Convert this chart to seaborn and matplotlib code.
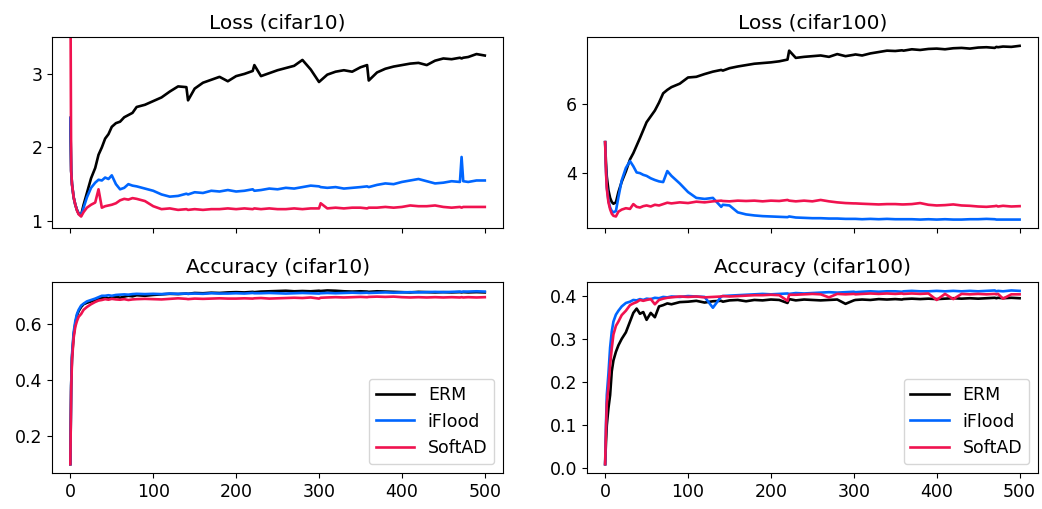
import matplotlib
matplotlib.use('Agg')
import matplotlib.pyplot as plt
import seaborn as sns
import pandas as pd

# --- DATA ---
EPOCHS = [0, 1, 2, 4, 6, 8, 10, 13, 16, 20, 25, 30, 34, 38, 42, 46, 50, 55, 60, 65,
          70, 75, 80, 90, 100, 110, 120, 130, 140, 142, 150, 160, 170, 180, 190, 200,
          210, 220, 222, 230, 240, 250, 260, 270, 280, 290, 300, 302, 310, 320, 330,
          340, 350, 358, 360, 370, 380, 390, 400, 410, 420, 430, 440, 450, 460, 470,
          472, 474, 480, 490, 500]

METHODS = ["ERM", "iFlood", "SoftAD"]
COLORS = {"ERM": "#000000", "iFlood": "#0066ff", "SoftAD": "#f0124f"}

loss_c10_erm = [2.40, 1.68, 1.50, 1.32, 1.22, 1.15, 1.10, 1.08, 1.22, 1.38, 1.58, 1.72, 1.90, 2.00,
                2.12, 2.18, 2.28, 2.33, 2.35, 2.41, 2.44, 2.47, 2.55, 2.58, 2.63, 2.68, 2.76, 2.83,
                2.82, 2.64, 2.80, 2.88, 2.92, 2.96, 2.90, 2.97, 3.00, 3.04, 3.12, 2.97, 3.01, 3.05,
                3.08, 3.11, 3.19, 3.06, 2.89, 2.91, 2.99, 3.03, 3.05, 3.03, 3.09, 3.12, 2.91, 3.02,
                3.07, 3.10, 3.12, 3.14, 3.15, 3.12, 3.18, 3.21, 3.20, 3.22, 3.21, 3.22, 3.23, 3.27,
                3.25]
loss_c10_iflood = [2.40, 1.68, 1.50, 1.32, 1.22, 1.15, 1.10, 1.07, 1.18, 1.32, 1.45, 1.52, 1.56, 1.55,
                   1.59, 1.57, 1.62, 1.50, 1.43, 1.45, 1.50, 1.48, 1.47, 1.44, 1.41, 1.36, 1.33, 1.34,
                   1.37, 1.36, 1.39, 1.38, 1.41, 1.40, 1.42, 1.40, 1.41, 1.43, 1.41, 1.42, 1.44, 1.43,
                   1.45, 1.44, 1.46, 1.48, 1.47, 1.46, 1.45, 1.46, 1.44, 1.45, 1.46, 1.47, 1.46, 1.49,
                   1.51, 1.50, 1.53, 1.55, 1.57, 1.54, 1.51, 1.52, 1.54, 1.53, 1.87, 1.54, 1.53, 1.55,
                   1.55]
loss_c10_softad = [4.60, 1.68, 1.50, 1.32, 1.22, 1.14, 1.09, 1.06, 1.12, 1.18, 1.22, 1.25, 1.43, 1.18,
                   1.20, 1.21, 1.22, 1.24, 1.28, 1.30, 1.29, 1.31, 1.30, 1.27, 1.20, 1.16, 1.17, 1.15,
                   1.16, 1.15, 1.16, 1.15, 1.16, 1.16, 1.17, 1.16, 1.17, 1.16, 1.17, 1.16, 1.17, 1.16,
                   1.16, 1.17, 1.16, 1.17, 1.17, 1.24, 1.17, 1.18, 1.17, 1.18, 1.18, 1.17, 1.18, 1.18,
                   1.19, 1.18, 1.19, 1.21, 1.20, 1.20, 1.21, 1.19, 1.18, 1.19, 1.18, 1.19, 1.19, 1.19,
                   1.19]

loss_c100_erm = [4.90, 4.30, 3.90, 3.50, 3.28, 3.16, 3.11, 3.15, 3.45, 3.75, 4.05, 4.40, 4.58, 4.80,
                 5.02, 5.25, 5.48, 5.65, 5.82, 6.05, 6.32, 6.42, 6.50, 6.60, 6.78, 6.80, 6.88, 6.95,
                 7.00, 6.98, 7.05, 7.10, 7.14, 7.18, 7.20, 7.22, 7.25, 7.30, 7.56, 7.35, 7.38, 7.40,
                 7.42, 7.38, 7.46, 7.40, 7.44, 7.45, 7.42, 7.48, 7.52, 7.56, 7.55, 7.57, 7.56, 7.60,
                 7.58, 7.61, 7.62, 7.60, 7.63, 7.64, 7.62, 7.65, 7.66, 7.64, 7.67, 7.66, 7.68, 7.67,
                 7.70]
loss_c100_iflood = [4.90, 4.10, 3.60, 3.20, 3.00, 2.90, 2.86, 2.90, 3.30, 3.79, 4.15, 4.35, 4.20, 4.02,
                    4.00, 3.95, 3.92, 3.85, 3.80, 3.76, 3.74, 4.06, 3.92, 3.70, 3.45, 3.28, 3.25, 3.28,
                    3.02, 3.08, 3.06, 2.86, 2.80, 2.77, 2.75, 2.74, 2.73, 2.72, 2.74, 2.71, 2.70, 2.69,
                    2.69, 2.68, 2.68, 2.67, 2.67, 2.67, 2.66, 2.67, 2.66, 2.67, 2.66, 2.66, 2.66, 2.66,
                    2.65, 2.66, 2.65, 2.66, 2.65, 2.65, 2.66, 2.66, 2.67, 2.66, 2.65, 2.65, 2.65, 2.65,
                    2.65]
loss_c100_softad = [4.90, 4.05, 3.55, 3.15, 2.95, 2.82, 2.76, 2.74, 2.88, 2.94, 2.98, 2.96, 3.10, 3.02,
                    3.00, 3.04, 3.06, 3.03, 3.08, 3.06, 3.10, 3.14, 3.12, 3.15, 3.13, 3.17, 3.15, 3.18,
                    3.20, 3.19, 3.18, 3.20, 3.19, 3.20, 3.18, 3.20, 3.19, 3.22, 3.20, 3.18, 3.20, 3.18,
                    3.22, 3.18, 3.15, 3.13, 3.12, 3.12, 3.11, 3.10, 3.09, 3.10, 3.10, 3.09, 3.09, 3.10,
                    3.13, 3.08, 3.06, 3.07, 3.09, 3.06, 3.05, 3.03, 3.02, 3.04, 3.05, 3.03, 3.05, 3.03,
                    3.04]

acc_c10_erm = [0.10, 0.38, 0.48, 0.56, 0.60, 0.63, 0.645, 0.66, 0.67, 0.675, 0.68, 0.685, 0.69, 0.692,
               0.695, 0.69, 0.695, 0.697, 0.693, 0.697, 0.70, 0.698, 0.702, 0.70, 0.703, 0.705, 0.707,
               0.706, 0.708, 0.707, 0.71, 0.709, 0.711, 0.71, 0.712, 0.713, 0.712, 0.714, 0.713, 0.715,
               0.716, 0.717, 0.718, 0.716, 0.717, 0.716, 0.718, 0.717, 0.719, 0.718, 0.716, 0.715,
               0.716, 0.715, 0.714, 0.716, 0.715, 0.714, 0.713, 0.712, 0.714, 0.713, 0.712, 0.713,
               0.712, 0.713, 0.712, 0.713, 0.712, 0.713, 0.712]
acc_c10_iflood = [0.10, 0.38, 0.49, 0.57, 0.61, 0.635, 0.65, 0.665, 0.672, 0.68, 0.685, 0.69, 0.695,
                  0.70, 0.70, 0.702, 0.70, 0.703, 0.704, 0.705, 0.704, 0.706, 0.707, 0.706, 0.707,
                  0.706, 0.708, 0.707, 0.708, 0.707, 0.708, 0.707, 0.709, 0.708, 0.708, 0.709, 0.708,
                  0.71, 0.709, 0.709, 0.71, 0.709, 0.708, 0.709, 0.71, 0.709, 0.708, 0.709, 0.71, 0.709,
                  0.71, 0.711, 0.71, 0.711, 0.71, 0.711, 0.712, 0.711, 0.712, 0.713, 0.712, 0.713,
                  0.714, 0.713, 0.714, 0.715, 0.714, 0.715, 0.715, 0.716, 0.715]
acc_c10_softad = [0.10, 0.36, 0.47, 0.55, 0.59, 0.61, 0.625, 0.635, 0.65, 0.66, 0.67, 0.678, 0.683,
                  0.685, 0.688, 0.686, 0.689, 0.687, 0.686, 0.688, 0.685, 0.687, 0.688, 0.689, 0.688,
                  0.687, 0.689, 0.691, 0.689, 0.688, 0.69, 0.689, 0.69, 0.691, 0.69, 0.69, 0.691, 0.69,
                  0.691, 0.692, 0.69, 0.691, 0.692, 0.693, 0.692, 0.694, 0.69, 0.693, 0.694, 0.695,
                  0.694, 0.695, 0.696, 0.695, 0.696, 0.697, 0.696, 0.697, 0.695, 0.694, 0.695, 0.694,
                  0.695, 0.694, 0.695, 0.694, 0.695, 0.694, 0.695, 0.694, 0.695]

acc_c100_erm = [0.01, 0.06, 0.10, 0.14, 0.17, 0.225, 0.25, 0.27, 0.285, 0.30, 0.315, 0.34, 0.36, 0.37,
                0.358, 0.362, 0.344, 0.36, 0.35, 0.375, 0.378, 0.382, 0.38, 0.385, 0.386, 0.388, 0.384,
                0.387, 0.388, 0.386, 0.389, 0.39, 0.387, 0.39, 0.389, 0.391, 0.39, 0.383, 0.392, 0.389,
                0.391, 0.39, 0.389, 0.39, 0.391, 0.381, 0.389, 0.39, 0.391, 0.39, 0.392, 0.391, 0.392,
                0.391, 0.392, 0.393, 0.392, 0.393, 0.392, 0.393, 0.394, 0.393, 0.394, 0.393, 0.394,
                0.395, 0.394, 0.395, 0.394, 0.395, 0.394]
acc_c100_iflood = [0.01, 0.10, 0.17, 0.22, 0.28, 0.317, 0.34, 0.356, 0.365, 0.375, 0.383, 0.386, 0.39,
                   0.389, 0.392, 0.39, 0.393, 0.392, 0.395, 0.394, 0.397, 0.396, 0.398, 0.397, 0.399,
                   0.398, 0.397, 0.372, 0.398, 0.399, 0.40, 0.401, 0.402, 0.403, 0.404, 0.403, 0.404,
                   0.405, 0.404, 0.406, 0.405, 0.406, 0.407, 0.408, 0.407, 0.408, 0.409, 0.408, 0.409,
                   0.41, 0.409, 0.41, 0.41, 0.409, 0.41, 0.411, 0.41, 0.41, 0.411, 0.41, 0.411, 0.41,
                   0.411, 0.41, 0.411, 0.412, 0.41, 0.411, 0.41, 0.412, 0.411]
acc_c100_softad = [0.01, 0.09, 0.15, 0.19, 0.24, 0.278, 0.31, 0.33, 0.34, 0.355, 0.365, 0.378, 0.382,
                   0.385, 0.39, 0.388, 0.39, 0.392, 0.38, 0.39, 0.393, 0.395, 0.396, 0.398, 0.397,
                   0.398, 0.396, 0.397, 0.398, 0.399, 0.398, 0.399, 0.40, 0.401, 0.401, 0.402, 0.401,
                   0.388, 0.402, 0.402, 0.403, 0.404, 0.403, 0.396, 0.404, 0.403, 0.404, 0.403, 0.404,
                   0.405, 0.404, 0.405, 0.404, 0.405, 0.404, 0.405, 0.404, 0.405, 0.39, 0.404, 0.392,
                   0.404, 0.403, 0.404, 0.403, 0.404, 0.403, 0.404, 0.393, 0.403, 0.403]


def to_long(erm, iflood, softad):
    frames = []
    for name, vals in zip(METHODS, [erm, iflood, softad]):
        frames.append(pd.DataFrame({"epoch": EPOCHS, "value": vals, "method": name}))
    return pd.concat(frames, ignore_index=True)


panels = [
    ("Loss (cifar10)", to_long(loss_c10_erm, loss_c10_iflood, loss_c10_softad)),
    ("Loss (cifar100)", to_long(loss_c100_erm, loss_c100_iflood, loss_c100_softad)),
    ("Accuracy (cifar10)", to_long(acc_c10_erm, acc_c10_iflood, acc_c10_softad)),
    ("Accuracy (cifar100)", to_long(acc_c100_erm, acc_c100_iflood, acc_c100_softad)),
]

plt.rcParams['font.family'] = ['DejaVu Sans']
plt.rcParams['font.size'] = 12.5

fig, axes = plt.subplots(2, 2, figsize=(10.42, 5.09), dpi=100, sharex='col')
fig.subplots_adjust(left=0.050, right=0.996, top=0.927, bottom=0.071, wspace=0.186, hspace=0.28)

for ax, (title, df) in zip(axes.flat, panels):
    sns.lineplot(data=df, x="epoch", y="value", hue="method", palette=COLORS,
                 linewidth=1.9, ax=ax, legend=title.startswith("Accuracy"))
    ax.set_title(title, fontsize=14.5)
    ax.set_xlabel("")
    ax.set_ylabel("")
    ax.set_xticks([0, 100, 200, 300, 400, 500])
    ax.set_xlim(-22, 522)
    if title.startswith("Accuracy"):
        leg = ax.legend(loc="lower right", fontsize=12.5, handlelength=2.2)
        leg.set_title(None)

axes[0, 0].set_ylim(0.9, 3.5)
axes[0, 0].set_yticks([1, 2, 3])
axes[0, 1].set_yticks([4, 6])
axes[1, 0].set_yticks([0.2, 0.4, 0.6])
axes[1, 1].set_yticks([0.0, 0.1, 0.2, 0.3, 0.4])

fig.savefig("out.png", dpi=100)
